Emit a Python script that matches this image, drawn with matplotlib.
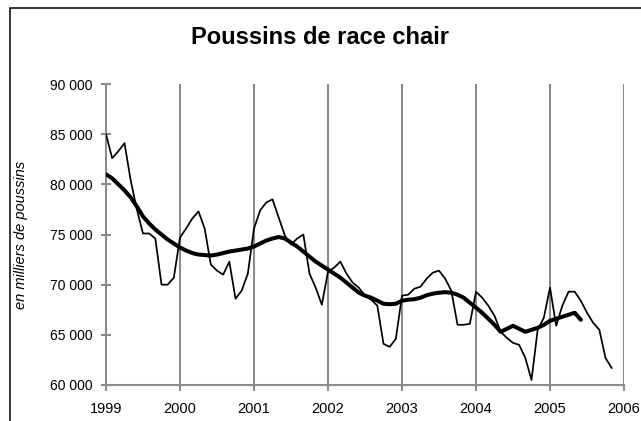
import matplotlib
matplotlib.use('Agg')
import matplotlib.pyplot as plt
import matplotlib.patches as ptc
import numpy as np
from matplotlib.ticker import FuncFormatter

plt.rcParams['font.family'] = ['Liberation Sans', 'DejaVu Sans']

# monthly values, January 1999 onwards (thousands of chicks)
raw = [
    85000, 82600, 83300, 84100, 80400, 77500, 75100, 75100, 74600, 70000, 70000, 70700,
    74700, 75600, 76600, 77300, 75600, 72000, 71400, 71000, 72300, 68600, 69400, 71100,
    75600, 77400, 78200, 78500, 76700, 74900, 74000, 74600, 75000, 71100, 69700, 68000,
    71300, 71700, 72300, 71100, 70200, 69700, 68900, 68500, 67900, 64100, 63800, 64600,
    68900, 69000, 69600, 69800, 70600, 71200, 71400, 70600, 69400, 66000, 66000, 66100,
    69300, 68700, 67900, 66900, 65300, 64700, 64200, 64000, 62700, 60500, 65500, 66700,
    69700, 65900, 67900, 69300, 69300, 68400, 67200, 66200, 65500, 62700, 61700,
]

trend = [
    81000, 80600, 80000, 79400, 78700, 77800, 76800, 76100, 75500, 75000, 74500, 74100,
    73700, 73400, 73150, 73000, 72950, 72900, 73000, 73150, 73300, 73400, 73500, 73600,
    73800, 74100, 74400, 74600, 74750, 74600, 74200, 73800, 73300, 72800, 72300, 71900,
    71500, 71100, 70700, 70200, 69700, 69200, 68900, 68700, 68400, 68100, 68050, 68100,
    68400, 68500, 68550, 68700, 68950, 69100, 69200, 69250, 69200, 69000, 68700, 68200,
    67700, 67200, 66600, 66000, 65300, 65600, 65900, 65600, 65300, 65500, 65700, 66000,
    66400, 66600, 66800, 67000, 67200, 66500,
]

years = list(range(1999, 2007))
y_ticks = list(range(60000, 90001, 5000))

start_year = 1999
x_raw = start_year + np.arange(len(raw)) / 12
x_trend = start_year + np.arange(len(trend)) / 12

fig = plt.figure(figsize=(6.41, 4.21), dpi=100)
ax = fig.add_axes([106 / 641, 1 - 385 / 421, 518 / 641, 301 / 421])

grey = '#8c8c8c'
for yr in years[1:]:
    ax.axvline(yr, color=grey, lw=1.5, zorder=1)

ax.plot(x_raw, raw, color='black', lw=1.25, zorder=3)
ax.plot(x_trend, trend, color='black', lw=2.9, solid_capstyle='round', zorder=4)

ax.set_xlim(1999, 2006)
ax.set_ylim(60000, 90000)
ax.set_xticks(years)
ax.set_yticks(y_ticks)
ax.yaxis.set_major_formatter(FuncFormatter(lambda v, _: '{:,.0f}'.format(v).replace(',', ' ')))

for s in ['top', 'right']:
    ax.spines[s].set_visible(False)
for s in ['left', 'bottom']:
    ax.spines[s].set_color(grey)
    ax.spines[s].set_linewidth(1.5)
    ax.spines[s].set_zorder(2)

ax.tick_params(axis='y', direction='inout', length=7, width=1.5, color=grey,
               labelsize=10, pad=6)
ax.tick_params(axis='x', direction='out', length=4, width=1.5, color=grey,
               labelsize=10.5, pad=8)

ax.set_ylabel('en milliers de poussins', fontsize=10.5, style='italic', labelpad=16)
fig.text(320 / 641, 1 - 37 / 421, 'Poussins de race chair', ha='center', va='center',
         fontsize=17, fontweight='bold')

fig.patches.append(ptc.Rectangle((10 / 641, -0.2), 1.2, 1.2 - 8 / 421,
                                 transform=fig.transFigure, fill=False,
                                 edgecolor='black', lw=1.1))

fig.savefig('out.png', dpi=100)
